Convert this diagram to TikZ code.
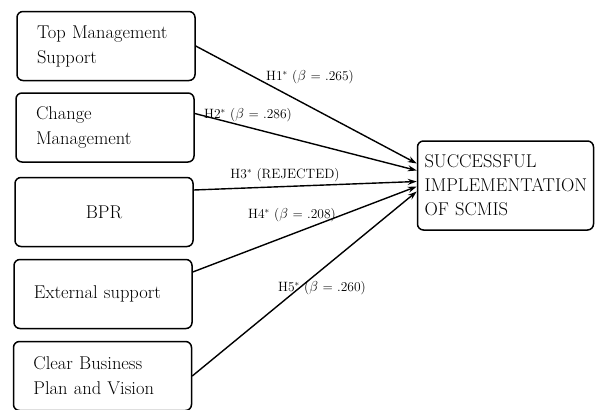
\documentclass[tikz,border=0pt]{standalone}
\usetikzlibrary{arrows.meta,positioning}
\begin{document}
\begin{tikzpicture}[x=1pt,y=-1pt,
  factor/.style={rectangle,draw=black,line width=1.5pt,rounded corners=6pt,minimum width=178pt,minimum height=69pt,inner xsep=20pt,text width=138pt,align=left,font=\fontsize{18.5}{25}\selectfont},
  outcome/.style={rectangle,draw=black,line width=1.5pt,rounded corners=6pt,minimum width=176pt,minimum height=89pt,inner xsep=7pt,text width=162pt,align=left,font=\fontsize{18.5}{24}\selectfont},
  hyp/.style={font=\fontsize{13.5}{15}\selectfont,inner sep=1pt},
  link/.style={line width=1.4pt,-{Stealth[length=9pt,width=6pt]}}]
  \useasboundingbox (0,0) rectangle (595,410);
  % predictors
  \node[factor] (tms) at (106,46) {Top Management Support};
  \node[factor] (cm) at (105,127.5) {Change\\Management};
  \node[factor,align=center] (bpr) at (104,212) {BPR};
  \node[factor] (ext) at (103,294) {External support};
  \node[factor] (cbp) at (102.5,376) {Clear Business\\Plan and Vision};
  % dependent variable
  \node[outcome] (scm) at (505.5,185.5) {SUCCESSFUL\\IMPLEMENTATION\\OF SCMIS};
  % paths
  \draw[link] (tms.east) -- ([yshift=22pt]scm.west);
  \draw[link] ([yshift=14pt]cm.east) -- ([yshift=15pt]scm.west);
  \draw[link] ([yshift=22pt]bpr.east) -- ([yshift=4pt]scm.west);
  \draw[link] ([yshift=22pt]ext.east) -- ([yshift=-1pt]scm.west);
  \draw[link] (cbp.east) -- ([yshift=-6pt]scm.west);
  % labels
  \node[hyp] (h1) at (310,77) {H1$^{\ast}$ ($\beta$ = .265)};
  \node[hyp] (h2) at (248,115) {H2$^{\ast}$ ($\beta$ = .286)};
  \node[hyp] (h3) at (285,175) {H3$^{\ast}$ (REJECTED)};
  \node[hyp] (h4) at (292,215) {H4$^{\ast}$ ($\beta$ = .208)};
  \node[hyp] (h5) at (322,288) {H5$^{\ast}$ ($\beta$ = .260)};
\end{tikzpicture}
\end{document}
